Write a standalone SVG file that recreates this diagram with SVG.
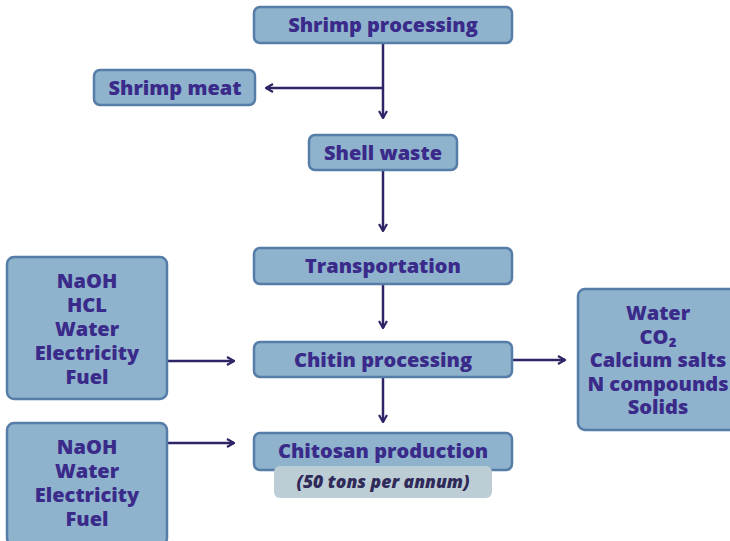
<svg xmlns="http://www.w3.org/2000/svg" width="730" height="541" viewBox="0 0 730 541">
<style>
.box{fill:#8fb3cd;stroke:#557da8;stroke-width:2.5}
.t{font-family:"Open Sans","Liberation Sans",sans-serif;font-weight:800;font-size:20px;fill:#3a2a8a;text-anchor:middle}
.c{stroke:#2e2566;stroke-width:2.5;fill:none}
</style>
<defs>
<marker id="ah" viewBox="0 0 10 10" refX="9" refY="5" markerWidth="10" markerHeight="10" markerUnits="userSpaceOnUse" orient="auto">
<path d="M2,1 L9,5 L2,9" fill="none" stroke="#2e2566" stroke-width="2.2"/>
</marker>
</defs>
<rect width="730" height="541" fill="#ffffff"/>
<g id="connectors">
<line class="c" x1="383" y1="43" x2="383" y2="118" marker-end="url(#ah)"/>
<line class="c" x1="383" y1="88" x2="266" y2="88" marker-end="url(#ah)"/>
<line class="c" x1="383" y1="170" x2="383" y2="231" marker-end="url(#ah)"/>
<line class="c" x1="383" y1="284" x2="383" y2="328" marker-end="url(#ah)"/>
<line class="c" x1="383" y1="377" x2="383" y2="422" marker-end="url(#ah)"/>
<line class="c" x1="167" y1="361" x2="234" y2="361" marker-end="url(#ah)"/>
<line class="c" x1="167" y1="443" x2="234" y2="443" marker-end="url(#ah)"/>
<line class="c" x1="512" y1="360" x2="565" y2="360" marker-end="url(#ah)"/>
</g>
<g id="shrimp-processing">
<rect class="box" x="254" y="7" width="258" height="36" rx="6"/>
<text class="t" x="383" y="32">Shrimp processing</text>
</g>
<g id="shrimp-meat">
<rect class="box" x="94" y="70" width="161" height="35" rx="6"/>
<text class="t" x="175" y="95">Shrimp meat</text>
</g>
<g id="shell-waste">
<rect class="box" x="309" y="135" width="148" height="35" rx="6"/>
<text class="t" x="383" y="160">Shell waste</text>
</g>
<g id="transportation">
<rect class="box" x="254" y="248" width="258" height="36" rx="6"/>
<text class="t" x="383" y="273">Transportation</text>
</g>
<g id="chitin-processing">
<rect class="box" x="254" y="342" width="258" height="35" rx="6"/>
<text class="t" x="383" y="367">Chitin processing</text>
</g>
<g id="chitosan-production">
<rect class="box" x="254" y="433" width="258" height="37" rx="6"/>
<text class="t" x="383" y="458">Chitosan production</text>
<rect x="274" y="466" width="218" height="32" rx="6" fill="#bccdd6"/>
<text class="t" x="383" y="488" style="font-size:17.5px;font-style:italic;fill:#2f2a58">(50 tons per annum)</text>
</g>
<g id="inputs-chitin">
<rect class="box" x="7" y="257" width="160" height="142" rx="7"/>
<text class="t" x="87" y="288">NaOH</text>
<text class="t" x="87" y="312">HCL</text>
<text class="t" x="87" y="336">Water</text>
<text class="t" x="87" y="360">Electricity</text>
<text class="t" x="87" y="384">Fuel</text>
</g>
<g id="inputs-chitosan">
<rect class="box" x="7" y="423" width="160" height="122" rx="7"/>
<text class="t" x="87" y="454">NaOH</text>
<text class="t" x="87" y="478">Water</text>
<text class="t" x="87" y="502">Electricity</text>
<text class="t" x="87" y="526">Fuel</text>
</g>
<g id="outputs">
<rect class="box" x="578" y="289" width="160" height="141" rx="7"/>
<text class="t" x="658" y="320">Water</text>
<text class="t" x="658" y="344">CO₂</text>
<text class="t" x="658" y="367">Calcium salts</text>
<text class="t" x="658" y="391">N compounds</text>
<text class="t" x="658" y="414">Solids</text>
</g>
</svg>
